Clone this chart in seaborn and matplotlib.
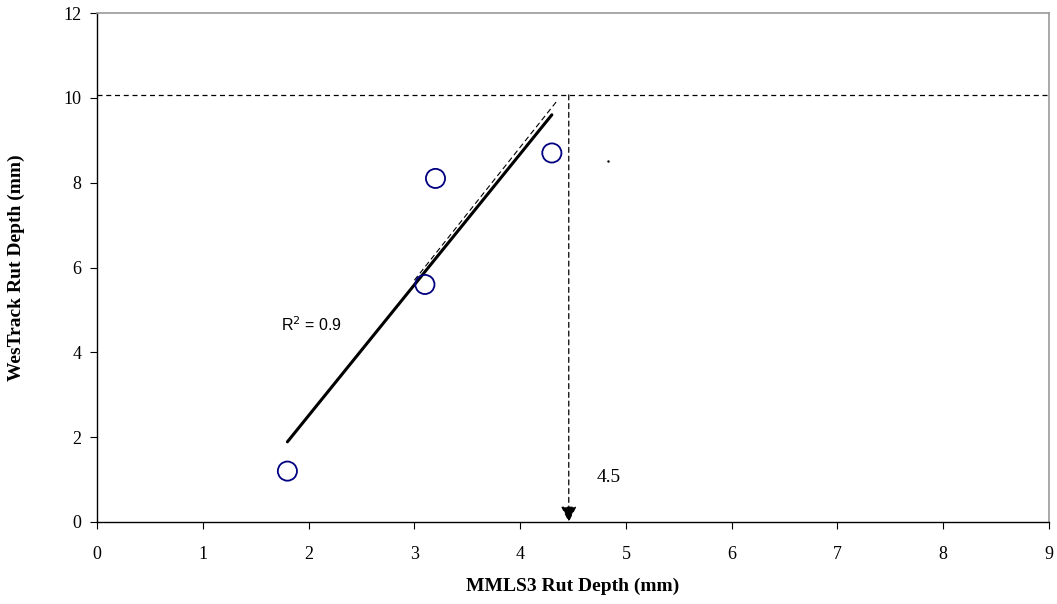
import matplotlib
matplotlib.use("Agg")
import matplotlib.pyplot as plt
import seaborn as sns
import numpy as np
import pandas as pd

mmls3 = [1.8, 3.1, 3.2, 4.3]
westrack = [1.2, 5.6, 8.1, 8.7]
fit_x = [1.8, 4.3]
fit_y = [1.89, 9.6]
ext_x = [3.0, 4.34]
ext_y = [5.7, 9.9]
target_y = 10.07
target_x = 4.46
stray_x = [4.83]
stray_y = [8.51]
x_ticks = list(range(0, 10))
y_ticks = list(range(0, 13, 2))

sns.set_theme(style="white")
plt.rcParams['font.family'] = ['Liberation Serif', 'DejaVu Serif']
plt.rcParams['text.color'] = 'black'
plt.rcParams['axes.labelcolor'] = 'black'

fig = plt.figure(figsize=(10.57, 6.04), dpi=100)
ax = fig.add_axes([97/1057, (604-522)/604, (1049-97)/1057, (522-13)/604])

df = pd.DataFrame({"x": mmls3, "y": westrack})
fit = pd.DataFrame({"x": fit_x, "y": fit_y})
ext = pd.DataFrame({"x": ext_x, "y": ext_y})

sns.lineplot(data=ext, x="x", y="y", ax=ax, color="black", lw=0.8,
             linestyle=(0, (5, 3)), zorder=3)
sns.lineplot(data=fit, x="x", y="y", ax=ax, color="black", lw=2.2, zorder=4)
sns.scatterplot(data=df, x="x", y="y", ax=ax, s=190, marker="o",
                facecolor="none", edgecolor="#000080", linewidth=1.3, zorder=5)
ax.plot(stray_x, stray_y, marker=".", ms=1.5, color="black", ls="none")

ax.axhline(target_y, color="black", lw=0.9, linestyle=(0, (4, 3)), zorder=2)
ax.annotate("", xy=(target_x, 0), xytext=(target_x, target_y),
            arrowprops=dict(arrowstyle="-|>", linestyle=(0, (4, 3)), lw=0.9,
                            color="black", mutation_scale=24,
                            shrinkA=0, shrinkB=0), zorder=6)

ax.text(1.74, 4.65, "R$^2$ = 0.9", fontsize=11.5, color="black",
        family=['Liberation Sans', 'DejaVu Sans'], ha="left", va="center")
ax.text(4.72, 1.05, "4.5", fontsize=14, color="black", ha="left", va="center")

ax.set_xlim(0, 9)
ax.set_ylim(0, 12)
ax.set_xticks(x_ticks)
ax.set_yticks(y_ticks)
ax.tick_params(axis="both", labelsize=13, direction="out", length=5,
               width=0.8, colors="black", labelcolor="black", left=True, bottom=True)
ax.tick_params(axis="x", pad=12)
ax.tick_params(axis="y", pad=6)
ax.set_xlabel("MMLS3 Rut Depth (mm)", fontsize=14, fontweight="bold",
              labelpad=11, color="black")
ax.set_ylabel("WesTrack Rut Depth (mm)", fontsize=14, fontweight="bold",
              labelpad=28, color="black")

for side in ["left", "bottom"]:
    ax.spines[side].set_color("black")
    ax.spines[side].set_linewidth(1.0)
for side in ["top", "right"]:
    ax.spines[side].set_color("#999999")
    ax.spines[side].set_linewidth(1.2)
ax.grid(False)

fig.savefig("out.png", dpi=100)
